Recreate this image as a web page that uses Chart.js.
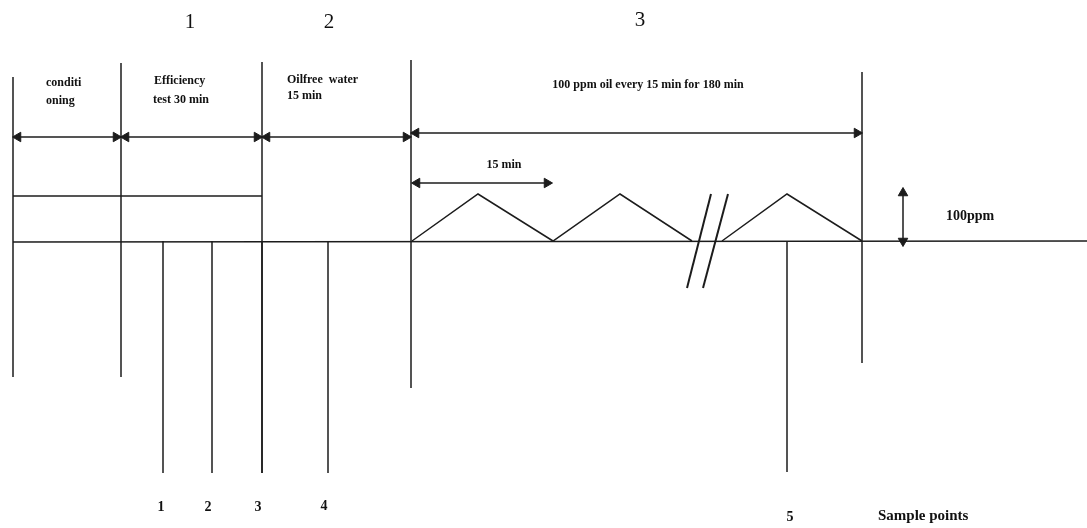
<!DOCTYPE html>
<html>
<head>
<meta charset="utf-8">
<script src="https://cdn.jsdelivr.net/npm/chart.js@4.4.0/dist/chart.umd.min.js"></script>
<style>
  html, body { margin: 0; padding: 0; background: #fff; }
  #wrap { width: 1087px; height: 528px; position: relative; }
</style>
</head>
<body>
<div id="wrap"><canvas id="chart"></canvas></div>
<script>
// diagram values (x = time axis, y = drawing height, top = 0)
const boundaryX = [13, 121, 262, 411, 862];
const boundaryTop = [77, 63, 62, 60, 72];
const boundaryBottom = [377, 377, 473, 388, 363];

const baselineY = 241;
const baselineEnd = 1087;

const sampleX = [163, 212, 262, 328, 787];
const sampleBottom = [473, 473, 473, 473, 472];
const sampleNames = ['1', '2', '3', '4', '5'];
const sampleNameX = [161, 208, 258, 324, 790];
const sampleNameY = [507, 507, 507, 506, 517];

const phaseArrowY = [137, 137, 137, 133];
const conditioningLevelY = 196;

// oil pulses of 100 ppm, every 15 min
const pulseX = [412, 478, 553, 620, 692, null, 722, 787, 862];
const pulseY = [241, 194, 241, 194, 241, null, 241, 194, 241];
const intervalArrow = { from: 412, to: 552, y: 183 };
const ppmArrow = { x: 903, from: 188, to: 246 };

const breakA = [[687, 288], [711, 194]];
const breakB = [[703, 288], [728, 194]];

const phaseNames = ['1', '2', '3'];
const phaseNameX = [190, 329, 640];
const phaseNameY = [22, 22, 20];

const noteText = ['conditi', 'oning', 'Efficiency', 'test 30 min', 'Oilfree  water', '15 min',
  '100 ppm oil every 15 min for 180 min', '15 min', '100ppm', 'Sample points'];
const noteX = [46, 46, 154, 153, 287, 287, 648, 504, 946, 878];
const noteY = [83, 101, 81, 100, 80, 96, 85, 165, 216, 516];

const ink = '#1c1c1c';

function seg(pts, extra) {
  return Object.assign({
    data: pts.map(p => ({ x: p[0], y: p[1] })),
    showLine: true, borderColor: ink, borderWidth: 1.5, pointRadius: 0,
    fill: false, spanGaps: false, clip: false
  }, extra || {});
}

// arrow with a filled head on both ends
function arrow(x1, y1, x2, y2) {
  const ang = Math.atan2(y2 - y1, x2 - x1) * 180 / Math.PI;
  const dx = Math.cos(ang * Math.PI / 180) * 5, dy = Math.sin(ang * Math.PI / 180) * 5;
  return seg([[x1 + dx, y1 + dy], [x2 - dx, y2 - dy]], {
    pointStyle: 'triangle', pointRadius: 5.5, pointHoverRadius: 5.5,
    pointBackgroundColor: ink, pointBorderColor: ink, pointBorderWidth: 1,
    pointRotation: [ang - 90, ang + 90]
  });
}

const datasets = [];
boundaryX.forEach((bx, i) => datasets.push(seg([[bx, boundaryTop[i]], [bx, boundaryBottom[i]]])));
datasets.push(seg([[boundaryX[0], baselineY + 1], [baselineEnd, baselineY]]));
sampleX.forEach((sx, i) => datasets.push(seg([[sx, baselineY], [sx, sampleBottom[i]]])));
for (let i = 0; i < phaseArrowY.length; i++) {
  datasets.push(arrow(boundaryX[i], phaseArrowY[i], boundaryX[i + 1], phaseArrowY[i]));
}
datasets.push(seg([[boundaryX[0], conditioningLevelY], [boundaryX[2], conditioningLevelY]]));
datasets.push(seg(pulseX.map((px, i) => [px, pulseY[i]]).slice(0, 5)));
datasets.push(seg(pulseX.map((px, i) => [px, pulseY[i]]).slice(6)));
datasets.push(arrow(intervalArrow.from, intervalArrow.y, intervalArrow.to, intervalArrow.y));
datasets.push(arrow(ppmArrow.x, ppmArrow.from, ppmArrow.x, ppmArrow.to));
datasets.push(seg(breakA, { borderWidth: 2 }));
datasets.push(seg(breakB, { borderWidth: 2 }));

const textPlugin = {
  id: 'diagramText',
  afterDatasetsDraw(chart) {
    const ctx = chart.ctx, x = chart.scales.x, y = chart.scales.y;
    ctx.save();
    ctx.fillStyle = '#111';
    ctx.textBaseline = 'middle';
    ctx.font = '21px "Liberation Serif"';
    ctx.textAlign = 'center';
    phaseNames.forEach((t, i) => ctx.fillText(t, x.getPixelForValue(phaseNameX[i]), y.getPixelForValue(phaseNameY[i])));
    ctx.font = 'bold 14px "Liberation Serif"';
    sampleNames.forEach((t, i) => ctx.fillText(t, x.getPixelForValue(sampleNameX[i]), y.getPixelForValue(sampleNameY[i])));
    noteText.forEach((t, i) => {
      ctx.textAlign = i === 6 || i === 7 ? 'center' : 'left';
      ctx.font = i === 8 ? 'bold 14px "Liberation Serif"' : (i === 9 ? 'bold 15px "Liberation Serif"' : 'bold 12px "Liberation Serif"');
      ctx.fillText(t, x.getPixelForValue(noteX[i]), y.getPixelForValue(noteY[i]));
    });
    ctx.restore();
  }
};

new Chart(document.getElementById('chart'), {
  type: 'scatter',
  data: { datasets: datasets },
  options: {
    responsive: true,
    maintainAspectRatio: false,
    animation: false,
    layout: { padding: 0, autoPadding: false },
    plugins: { legend: { display: false }, tooltip: { enabled: false } },
    events: [],
    scales: {
      x: { type: 'linear', min: 0, max: 1087, display: false },
      y: { type: 'linear', min: 0, max: 528, reverse: true, display: false }
    }
  },
  plugins: [textPlugin]
});
</script>
</body>
</html>
